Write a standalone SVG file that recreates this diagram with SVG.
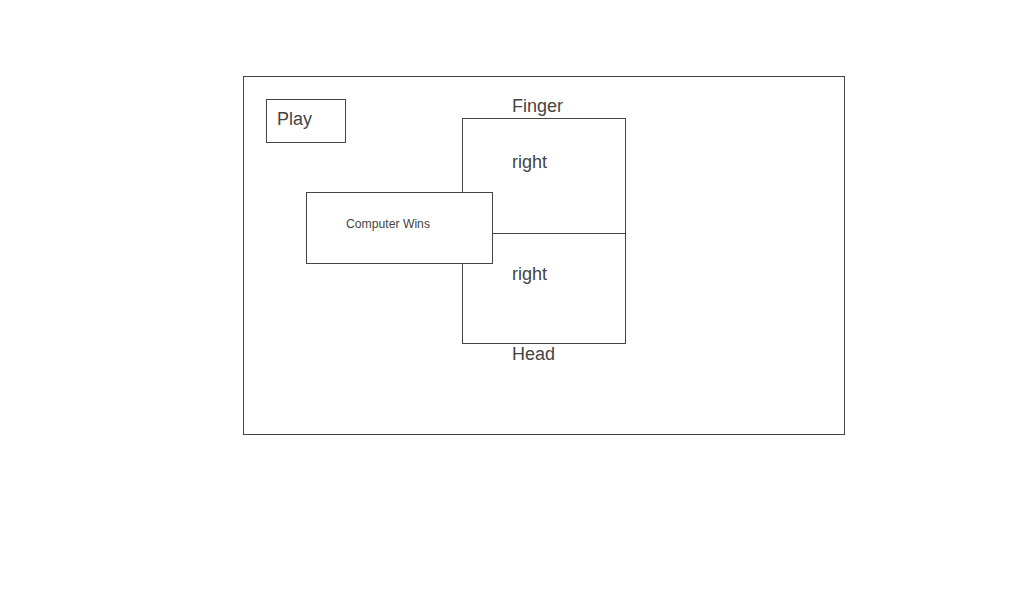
<svg xmlns="http://www.w3.org/2000/svg" width="1024" height="600" viewBox="0 0 1024 600">
<style>
.box{fill:#fff;stroke:#444444;stroke-width:1}
.t{font-family:"Liberation Sans",Arial,sans-serif;font-size:18px;fill:#444444}
.s{font-family:"Liberation Sans",Arial,sans-serif;font-size:12.2px;fill:#444444}
</style>
<rect width="1024" height="600" fill="#fff"/>
<g id="frame"><rect class="box" x="243.5" y="76.5" width="601" height="358"/></g>
<g id="play"><rect class="box" x="266.5" y="99.5" width="79" height="43"/><text class="t" x="277" y="124.5">Play</text></g>
<g id="finger"><rect class="box" x="462.5" y="118.5" width="163" height="115"/><text class="t" x="512" y="112">Finger</text><text class="t" x="512" y="168">right</text></g>
<g id="head"><rect class="box" x="462.5" y="233.5" width="163" height="110"/><text class="t" x="512" y="280">right</text><text class="t" x="512" y="360">Head</text></g>
<g id="computer-wins"><rect class="box" x="306.5" y="192.5" width="186" height="71"/><text class="s" x="346" y="228">Computer Wins</text></g>
<g id="connectors"></g>
</svg>
